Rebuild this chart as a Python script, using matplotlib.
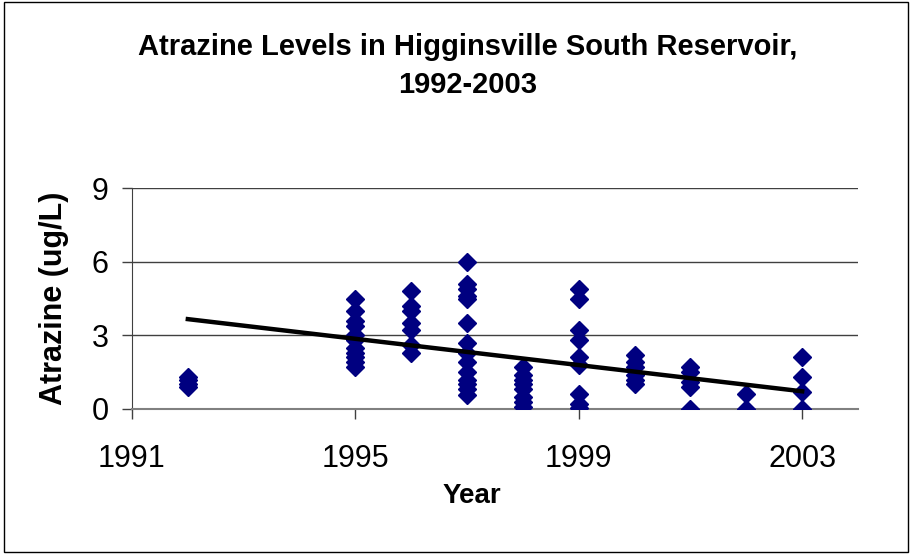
import matplotlib
matplotlib.use("Agg")
import matplotlib.pyplot as plt
from matplotlib.patches import Rectangle
import numpy as np

plt.rcParams['font.family'] = ['Liberation Sans', 'DejaVu Sans']

# atrazine samples (ug/L), grouped by year
atrazine = {
    1992: [0.9, 1.0, 1.2, 1.3],
    1995: [4.5, 4.0, 3.6, 3.4, 3.0, 2.8, 2.5, 2.3, 2.1, 1.9, 1.7],
    1996: [4.8, 4.2, 4.0, 3.5, 3.2, 2.6, 2.3],
    1997: [6.0, 5.1, 4.9, 4.6, 4.5, 3.5, 2.7, 2.3, 1.9, 1.5, 1.2, 1.0, 0.8, 0.55],
    1998: [1.7, 1.4, 1.2, 1.0, 0.8, 0.5, 0.3, 0.1],
    1999: [4.9, 4.5, 3.2, 2.8, 2.1, 1.8, 0.6, 0.2, 0.05],
    2000: [2.2, 1.9, 1.7, 1.4, 1.2, 1.0],
    2001: [1.7, 1.5, 1.1, 0.9, 0.0],
    2002: [0.6, 0.0],
    2003: [2.1, 1.3, 0.7, 0.0],
}
# linear trend line end points
trend_years = [1992, 2003]
trend_values = [3.66, 0.72]

x_ticks = [1991, 1995, 1999, 2003]
y_ticks = [0, 3, 6, 9]

years = np.concatenate([[y] * len(v) for y, v in atrazine.items()])
values = np.concatenate(list(atrazine.values()))

fig = plt.figure(figsize=(9.14, 5.58), dpi=100)
ax = fig.add_axes([132 / 914, 1 - 409 / 558, 726 / 914, 221 / 558])

ax.plot(years, values, linestyle='none', marker='D', markersize=9,
        color='#000080', zorder=3)
ax.plot(trend_years, trend_values, color='black', linewidth=3.2, zorder=4)

ax.set_xlim(1991, 2004)
ax.set_ylim(0, 9)
ax.set_xticks(x_ticks)
ax.set_yticks(y_ticks)
ax.tick_params(labelsize=22, direction='out', length=7, width=1, color='#404040')
ax.tick_params(axis='x', pad=18)
ax.tick_params(axis='y', pad=10)
ax.yaxis.grid(True, color='#404040', linewidth=1)
ax.set_axisbelow(True)
for side in ['top', 'right']:
    ax.spines[side].set_visible(False)
ax.spines['left'].set_color('#404040')
ax.spines['bottom'].set_color('#808080')
ax.spines['bottom'].set_linewidth(1.5)

ax.set_xlabel('Year', fontsize=20, fontweight='bold')
ax.xaxis.set_label_coords((472 - 132) / 726, (409 - 483) / 221)
ax.set_ylabel('Atrazine (ug/L)', fontsize=22, fontweight='bold')
ax.yaxis.set_label_coords((69 - 132) / 726, 0.5)

fig.text(468 / 914, 1 - 33 / 558,
         'Atrazine Levels in Higginsville South Reservoir,\n1992-2003',
         ha='center', va='top', fontsize=21, fontweight='bold',
         linespacing=1.45)

# chart area border
fig.patches.append(Rectangle((4 / 914, 6 / 558), 904 / 914, 550 / 558,
                             transform=fig.transFigure, fill=False,
                             edgecolor='black', linewidth=1))

fig.savefig('out.png', dpi=100)
